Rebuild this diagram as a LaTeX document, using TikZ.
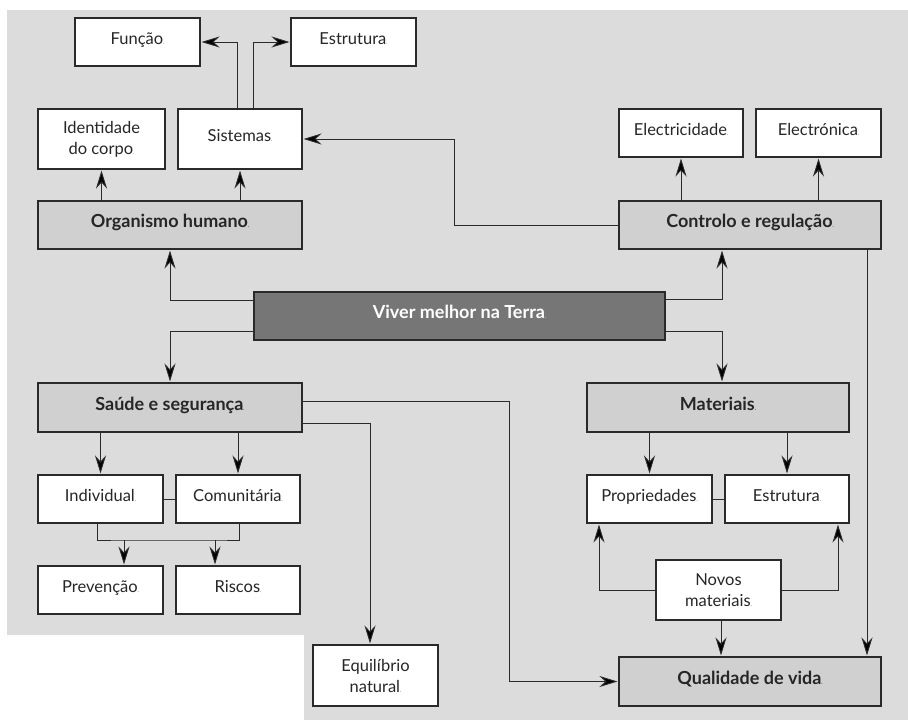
\documentclass[tikz,border=0pt]{standalone}
\usepackage{fontspec}
\setmainfont{Lato}
\usetikzlibrary{arrows.meta}
\definecolor{bggray}{HTML}{DCDCDC}
\definecolor{midgray}{HTML}{D0D0D0}
\definecolor{darkbox}{HTML}{767676}
\definecolor{linegray}{HTML}{2A2A2A}
\newcommand\tinydotmark{{\fontsize{5pt}{5pt}\selectfont.}}
\begin{document}
\begin{tikzpicture}[x=1pt,y=-1pt,
  box/.style={draw=linegray,line width=1.1pt,fill=white,inner sep=2pt,align=center,
    font=\fontsize{16.5pt}{21pt}\selectfont,text=black!85},
  one/.style={text height=0.72em,text depth=0.2em},
  wbox/.style={box,one,minimum height=48pt},
  mbox/.style={box,one,fill=midgray,minimum height=48pt,font=\fontsize{18pt}{21pt}\selectfont\bfseries},
  conn/.style={draw=linegray,line width=0.9pt},
  arr/.style={conn,-{Stealth[length=18pt,width=11pt,inset=6pt,fill=black]},shorten >=1pt}]
\useasboundingbox (0,0) rectangle (908,720);
\fill[bggray] (7,10) -- (908,10) -- (908,720) -- (304,720) -- (304,635) -- (7,635) -- cycle;
% nodes
\node[wbox,minimum width=125pt] (fun) at (137.5,42) {Função\tinydotmark};
\node[wbox,minimum width=125pt] (estA) at (353.5,42) {Estrutura\tinydotmark};
\node[box,minimum width=127pt,minimum height=60pt] (ident) at (101.5,139) {Identidade\\do corpo\tinydotmark};
\node[wbox,minimum width=124pt,minimum height=60pt] (sist) at (240,139) {Sistemas\tinydotmark};
\node[mbox,minimum width=264pt] (org) at (170,225) {Organismo humano\tinydotmark};
\node[wbox,minimum width=124pt] (elec) at (681,133) {Electricidade\tinydotmark};
\node[wbox,minimum width=125pt] (eltr) at (818.5,133) {Electrónica\tinydotmark};
\node[mbox,minimum width=262pt] (ctrl) at (750,225) {Controlo e regulação\tinydotmark};
\node[mbox,fill=darkbox,text=white,minimum width=411pt] (viver) at (459.5,316) {Viver melhor na Terra\tinydotmark};
\node[mbox,minimum width=264pt,minimum height=49pt] (saude) at (170,407.5) {Saúde e segurança\tinydotmark};
\node[mbox,minimum width=262pt,minimum height=49pt] (mat) at (718,407.5) {Materiais\tinydotmark};
\node[wbox,minimum width=125pt] (ind) at (100.5,499) {Individual\tinydotmark};
\node[wbox,minimum width=124pt] (com) at (238,499) {Comunitária\tinydotmark};
\node[wbox,minimum width=125pt] (prop) at (649.5,499) {Propriedades\tinydotmark};
\node[wbox,minimum width=124pt] (estB) at (787,499) {Estrutura\tinydotmark};
\node[wbox,minimum width=125pt] (prev) at (100.5,590) {Prevenção\tinydotmark};
\node[wbox,minimum width=124pt] (risc) at (238,590) {Riscos\tinydotmark};
\node[box,minimum width=125pt,minimum height=60pt] (novos) at (718.5,590) {Novos\\materiais\tinydotmark};
\node[box,minimum width=125pt,minimum height=61pt] (equi) at (375.5,675.5) {Equilíbrio\\natural\tinydotmark};
\node[mbox,minimum width=262pt,minimum height=49pt] (qual) at (750,681.5) {Qualidade de vida\tinydotmark};
% helper coordinates
\coordinate (c1) at (454,139);
\coordinate (c3) at (509,401);
\coordinate (j1) at (124,540);
\coordinate (j2) at (215,540);
% connectors
\draw[arr] ([xshift=-3pt]sist.north) |- (fun.east);
\draw[arr] ([xshift=13pt]sist.north) |- (estA.west);
\draw[arr] (org.north -| ident.south) -- (ident.south);
\draw[arr] (org.north -| sist.south) -- (sist.south);
\draw[arr] (ctrl.west) -| (c1) -- (sist.east);
\draw[arr] (ctrl.north -| elec.south) -- (elec.south);
\draw[arr] (ctrl.north -| eltr.south) -- (eltr.south);
\draw[arr] ([yshift=16pt]viver.west) -| (org.south);
\draw[arr] ([yshift=-15pt]viver.west) -| (saude.north);
\draw[arr] ([yshift=17pt]viver.east) -| ([xshift=-28pt]ctrl.south);
\draw[arr] ([yshift=-15pt]viver.east) -| ([xshift=4pt]mat.north);
\draw[arr] ([xshift=117pt]ctrl.south) -- ([xshift=117pt]qual.north);
\draw[arr] ([yshift=6.5pt]saude.east) -- (c3) |- (qual.west);
\draw[arr] ([yshift=-15.5pt]saude.east) -| ([xshift=-5.5pt]equi.north);
\draw[arr] (saude.south -| ind.north) -- (ind.north);
\draw[arr] (saude.south -| com.north) -- (com.north);
\draw[conn] (ind.east) -- (com.west);
\draw[conn] ([xshift=-3.5pt]ind.south) |- (j1) -- (j2) -| ([xshift=1pt]com.south);
\draw[arr] (j1) -- (j1 |- prev.north);
\draw[arr] (j2) -- (j2 |- risc.north);
\draw[arr] (mat.south -| prop.north) -- (prop.north);
\draw[arr] (mat.south -| estB.north) -- (estB.north);
\draw[conn] (prop.east) -- (estB.west);
\draw[arr] (novos.west) -| ([xshift=-50.5pt]prop.south);
\draw[arr] (novos.east) -| ([xshift=51pt]estB.south);
\draw[arr] ([xshift=2.5pt]novos.south) -- ([xshift=-29pt]qual.north);
\end{tikzpicture}
\end{document}
